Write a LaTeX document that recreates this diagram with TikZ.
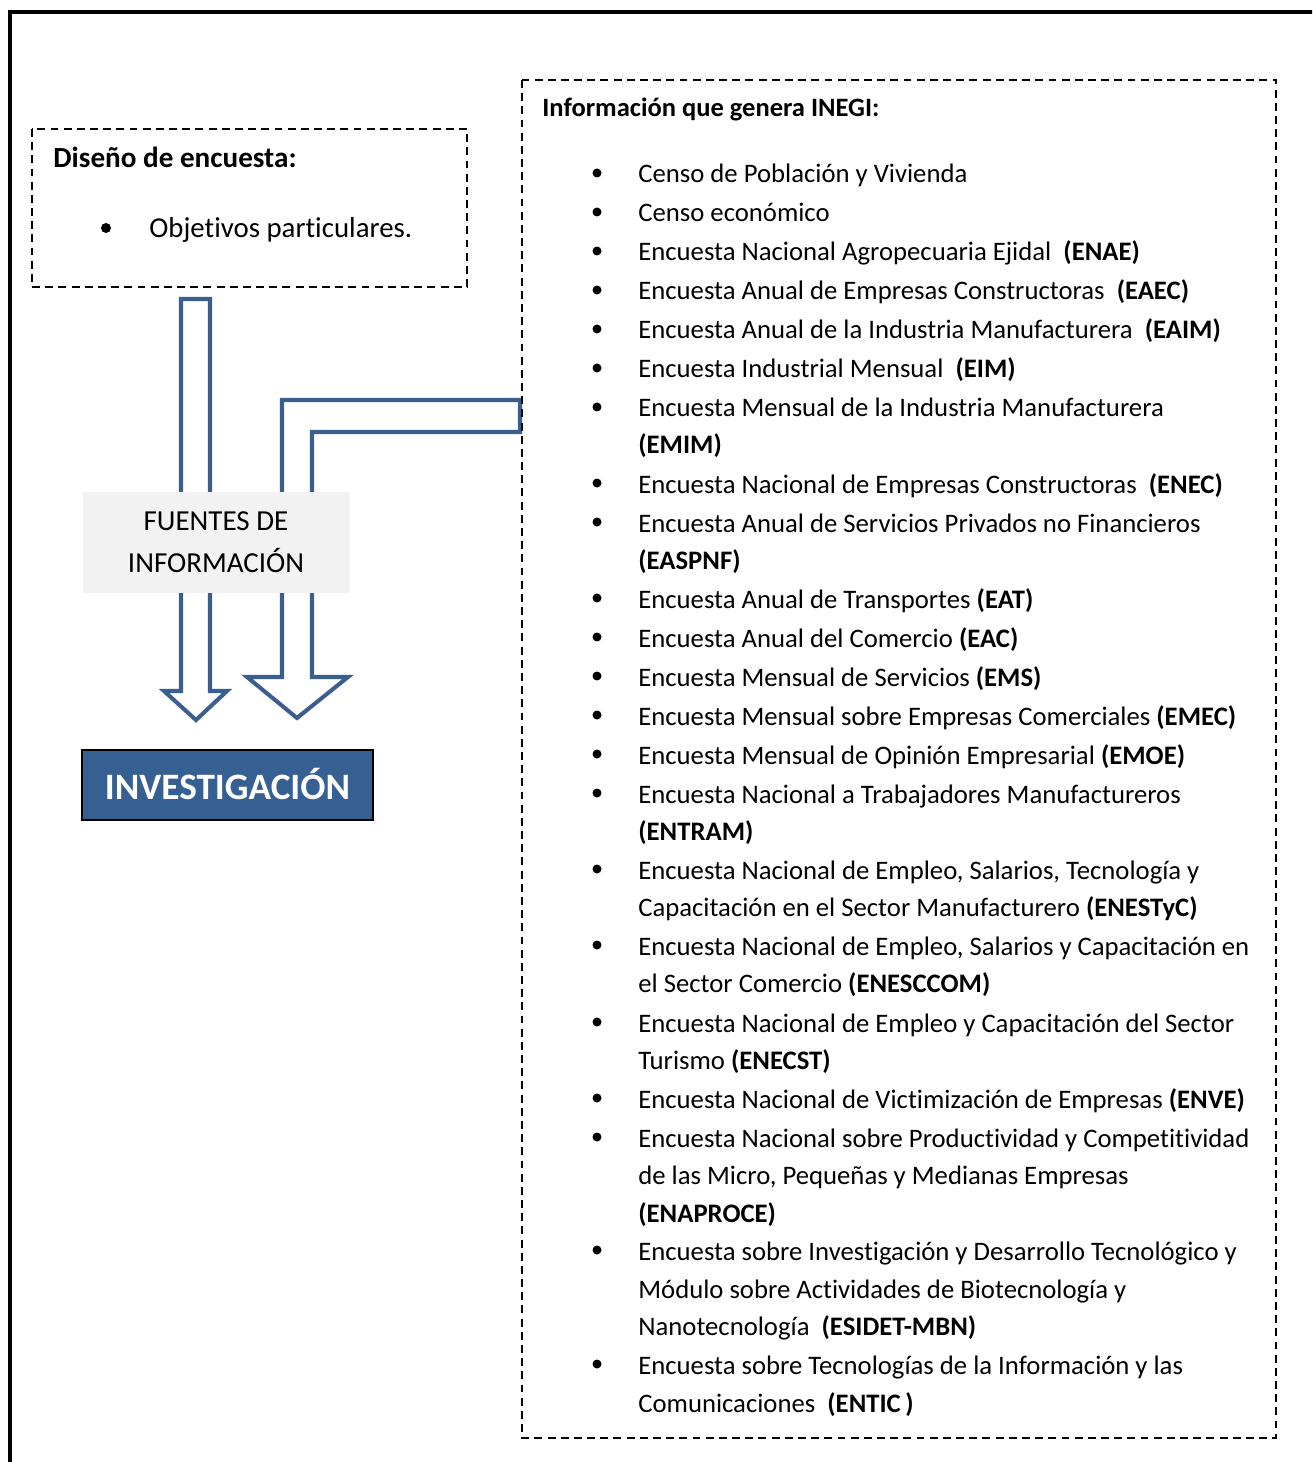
\documentclass[tikz,border=0pt]{standalone}
\usepackage{fontspec}
\setmainfont{Carlito}[Ligatures=NoCommon]
\definecolor{arrowblue}{HTML}{3A5F8F}
\definecolor{boxblue}{HTML}{376092}
\definecolor{labelgray}{HTML}{F2F2F2}
\begin{document}
\begin{tikzpicture}[x=0.02cm, y=-0.02cm,
  listtext/.style={anchor=base west, inner sep=0pt, font=\fontsize{15.2}{18}\selectfont},
  headtext/.style={anchor=base west, inner sep=0pt, font=\fontsize{15.1}{18}\selectfont\bfseries},
  dashbox/.style={draw, line width=1.1pt, dash pattern=on 4.5pt off 3pt},
  blockarrow/.style={draw=arrowblue, fill=white, line width=2.3pt, line join=miter}]
\def\bulletx{597}
\def\textx{638}
\def\bulletsize{4.5}
\useasboundingbox (0,0) rectangle (1312,1462);
\clip (0,0) rectangle (1312,1462);

% OUTER FRAME
\draw[line width=2.3pt] (10,1500) -- (10,12) -- (1350,12);

% LEFT BOX
\draw[dashbox] (32,129) rectangle (467,287);
\node[headtext, font=\fontsize{16.6}{19}\selectfont\bfseries] (design) at (53,168) {Diseño de encuesta:};
\fill (106,228) circle (5);
\node[listtext, font=\fontsize{16.4}{19}\selectfont] (goals) at (149,238) {Objetivos particulares.};

% ARROWS
\draw[blockarrow] (181,299) -- (210,299) -- (210,691) -- (227,691) -- (196,720)
  -- (164,691) -- (181,691) -- cycle;
\draw[blockarrow] (282,677) -- (282,400) -- (520,400) -- (520,432) -- (312,432)
  -- (312,677) -- (348,677) -- (297,718) -- (247,677) -- cycle;

% SOURCES LABEL
\fill[labelgray] (83,492) rectangle (350,593);
\node[font=\fontsize{16.5}{20}\selectfont, align=center, inner sep=0pt] (sources) at (216,542)
  {FUENTES DE\\[4pt]INFORMACIÓN};

% RESEARCH BOX
\node[draw=black, line width=1.1pt, fill=boxblue, text=white, minimum width=291*0.02cm,
  minimum height=70*0.02cm, font=\fontsize{21.2}{24}\selectfont\bfseries] (research) at (227.5,785)
  {\raisebox{1.5pt}{INVESTIGACIÓN}};

% RIGHT BOX
\draw[dashbox] (522,80) rectangle (1276,1438);
\node[headtext] (inegi) at (542,117) {Información que genera INEGI:};

\foreach \y in {173,212,251,290,329,368,407,483,522,598,637,676,715,754,793,869,945,1022,1098,1137,1250,1364}
  \fill (\bulletx,\y) circle (\bulletsize);

\node[listtext] (censo) at (\textx,183) {Censo de Población y Vivienda};
\node[listtext] (ce) at (\textx,222) {Censo económico};
\node[listtext] (enae) at (\textx,261) {Encuesta Nacional Agropecuaria Ejidal \ \textbf{(ENAE)}};
\node[listtext] (eaec) at (\textx,300) {Encuesta Anual de Empresas Constructoras \ \textbf{(EAEC)}};
\node[listtext] (eaim) at (\textx,339) {Encuesta Anual de la Industria Manufacturera \ \textbf{(EAIM)}};
\node[listtext] (eim) at (\textx,378) {Encuesta Industrial Mensual \ \textbf{(EIM)}};
\node[listtext] (emim) at (\textx,417) {Encuesta Mensual de la Industria Manufacturera};
\node[listtext] (emimb) at (\textx,454) {\textbf{(EMIM)}};
\node[listtext] (enec) at (\textx,493) {Encuesta Nacional de Empresas Constructoras \ \textbf{(ENEC)}};
\node[listtext] (easpnf) at (\textx,532) {Encuesta Anual de Servicios Privados no Financieros};
\node[listtext] (easpnfb) at (\textx,569) {\textbf{(EASPNF)}};
\node[listtext] (eat) at (\textx,608) {Encuesta Anual de Transportes \textbf{(EAT)}};
\node[listtext] (eac) at (\textx,647) {Encuesta Anual del Comercio \textbf{(EAC)}};
\node[listtext] (ems) at (\textx,686) {Encuesta Mensual de Servicios \textbf{(EMS)}};
\node[listtext] (emec) at (\textx,725) {Encuesta Mensual sobre Empresas Comerciales \textbf{(EMEC)}};
\node[listtext] (emoe) at (\textx,764) {Encuesta Mensual de Opinión Empresarial \textbf{(EMOE)}};
\node[listtext] (entram) at (\textx,803) {Encuesta Nacional a Trabajadores Manufactureros};
\node[listtext] (entramb) at (\textx,840) {\textbf{(ENTRAM)}};
\node[listtext] (enestyc) at (\textx,879) {Encuesta Nacional de Empleo, Salarios, Tecnología y};
\node[listtext] (enestycb) at (\textx,916) {Capacitación en el Sector Manufacturero \textbf{(ENESTyC)}};
\node[listtext] (enesccom) at (\textx,955) {Encuesta Nacional de Empleo, Salarios y Capacitación en};
\node[listtext] (enesccomb) at (\textx,992) {el Sector Comercio \textbf{(ENESCCOM)}};
\node[listtext] (enecst) at (\textx,1032) {Encuesta Nacional de Empleo y Capacitación del Sector};
\node[listtext] (enecstb) at (\textx,1069) {Turismo \textbf{(ENECST)}};
\node[listtext] (enve) at (\textx,1108) {Encuesta Nacional de Victimización de Empresas \textbf{(ENVE)}};
\node[listtext] (enaproce) at (\textx,1147) {Encuesta Nacional sobre Productividad y Competitividad};
\node[listtext] (enaproceb) at (\textx,1184) {de las Micro, Pequeñas y Medianas Empresas};
\node[listtext] (enaprocec) at (\textx,1222) {\textbf{(ENAPROCE)}};
\node[listtext] (esidet) at (\textx,1260) {Encuesta sobre Investigación y Desarrollo Tecnológico y};
\node[listtext] (esidetb) at (\textx,1298) {Módulo sobre Actividades de Biotecnología y};
\node[listtext] (esidetc) at (\textx,1335) {Nanotecnología \ \textbf{(ESIDET-MBN)}};
\node[listtext] (entic) at (\textx,1374) {Encuesta sobre Tecnologías de la Información y las};
\node[listtext] (enticb) at (\textx,1412) {Comunicaciones \ \textbf{(ENTIC\,)}};
\end{tikzpicture}
\end{document}
